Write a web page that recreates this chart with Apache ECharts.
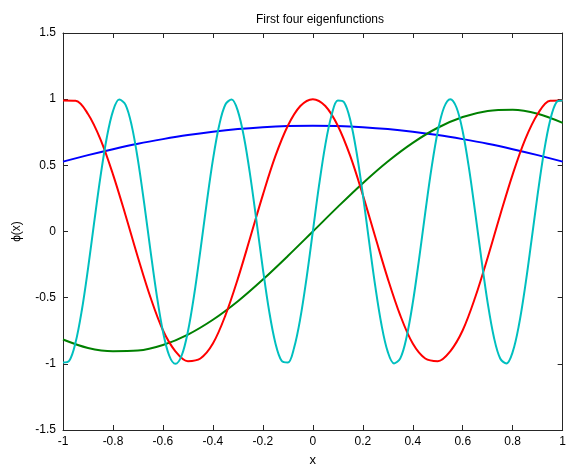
<!doctype html>
<html>
<head>
  <meta charset="utf-8">
  <title>First four eigenfunctions</title>
  <script src="https://cdn.jsdelivr.net/npm/echarts@6/dist/echarts.min.js"></script>
  <style>
    html, body { margin: 0; padding: 0; background: #fff; }
    #chart { width: 569px; height: 472px; }
  </style>
</head>
<body>
  <div id="chart"></div>
  <script>
    // x positions (coarse, medium, fine) and curve values
    const xCoarse = [-1, -0.9, -0.8, -0.7, -0.6, -0.5, -0.4, -0.3, -0.2, -0.1, 0,
      0.1, 0.2, 0.3, 0.4, 0.5, 0.6, 0.7, 0.8, 0.9, 1];
    const xMedium = [-1, -0.95, -0.9, -0.85, -0.8, -0.75, -0.7, -0.65, -0.6, -0.55, -0.5,
      -0.45, -0.4, -0.35, -0.3, -0.25, -0.2, -0.15, -0.1, -0.05, 0,
      0.05, 0.1, 0.15, 0.2, 0.25, 0.3, 0.35, 0.4, 0.45, 0.5,
      0.55, 0.6, 0.65, 0.7, 0.75, 0.8, 0.85, 0.9, 0.95, 1];
    const xFine = [-1, -0.975, -0.95, -0.925, -0.9, -0.875, -0.85, -0.825, -0.8, -0.775,
      -0.75, -0.725, -0.7, -0.675, -0.65, -0.625, -0.6, -0.575, -0.55, -0.525,
      -0.5, -0.475, -0.45, -0.425, -0.4, -0.375, -0.35, -0.325, -0.3, -0.275,
      -0.25, -0.225, -0.2, -0.175, -0.15, -0.125, -0.1, -0.075, -0.05, -0.025,
      0, 0.025, 0.05, 0.075, 0.1, 0.125, 0.15, 0.175, 0.2, 0.225,
      0.25, 0.275, 0.3, 0.325, 0.35, 0.375, 0.4, 0.425, 0.45, 0.475,
      0.5, 0.525, 0.55, 0.575, 0.6, 0.625, 0.65, 0.675, 0.7, 0.725,
      0.75, 0.775, 0.8, 0.825, 0.85, 0.875, 0.9, 0.925, 0.95, 0.975, 1];

    const blueVals = [0.528, 0.577, 0.622, 0.663, 0.698, 0.729, 0.754, 0.774, 0.788, 0.797, 0.800,
      0.797, 0.788, 0.774, 0.754, 0.729, 0.698, 0.663, 0.622, 0.577, 0.528];
    const greenVals = [-0.816, -0.880, -0.905, -0.900, -0.858, -0.779, -0.667, -0.527, -0.363, -0.185, 0,
      0.186, 0.365, 0.529, 0.670, 0.784, 0.865, 0.911, 0.920, 0.890, 0.821];
    const redVals = [0.99, 0.988, 0.888, 0.696, 0.432, 0.125, -0.196, -0.497, -0.746, -0.905, -0.98,
      -0.96, -0.847, -0.634, -0.356, -0.042, 0.277, 0.569, 0.799, 0.948, 1,
      0.948, 0.799, 0.569, 0.277, -0.042, -0.356, -0.634, -0.847, -0.96, -0.98,
      -0.905, -0.746, -0.497, -0.196, 0.125, 0.432, 0.696, 0.888, 0.988, 0.99];
    const cyanVals = [-0.990, -0.977, -0.841, -0.599, -0.282, 0.072, 0.415, 0.707, 0.910, 0.997,
      0.959, 0.800, 0.540, 0.212, -0.142, -0.479, -0.756, -0.937, -1.000, -0.937,
      -0.756, -0.479, -0.142, 0.213, 0.541, 0.801, 0.960, 0.997, 0.910, 0.707,
      0.415, 0.071, -0.282, -0.600, -0.842, -0.977, -0.990, -0.878, -0.655, -0.350,
      0.000, 0.350, 0.655, 0.878, 0.990, 0.977, 0.841, 0.599, 0.282, -0.072,
      -0.415, -0.707, -0.910, -0.997, -0.959, -0.800, -0.540, -0.212, 0.143, 0.479,
      0.756, 0.937, 1.000, 0.937, 0.756, 0.479, 0.142, -0.213, -0.541, -0.801,
      -0.960, -0.997, -0.910, -0.707, -0.415, -0.071, 0.282, 0.600, 0.841, 0.977, 0.990];

    const xTicks = { min: -1, max: 1, interval: 0.2 };
    const yTicks = { min: -1.5, max: 1.5, interval: 0.5 };

    const font = 'Liberation Sans, Arial, sans-serif';
    const boxColor = '#262626';

    function pairs(xs, ys) {
      return xs.map((x, i) => [x, ys[i]]);
    }

    function line(name, color, xs, ys) {
      return {
        name: name,
        type: 'line',
        data: pairs(xs, ys),
        smooth: 0.35,
        symbol: 'none',
        lineStyle: { color: color, width: 2 },
        z: 3
      };
    }

    function xAx(pos, main) {
      return {
        type: 'value', position: pos,
        min: xTicks.min, max: xTicks.max, interval: xTicks.interval,
        name: main ? 'x' : '',
        nameLocation: 'middle', nameGap: 24,
        nameTextStyle: { fontFamily: font, fontSize: 13, color: '#000' },
        axisLine: { show: true, onZero: false, lineStyle: { color: boxColor, width: 1 } },
        axisTick: { show: true, inside: true, length: 5, lineStyle: { color: boxColor } },
        axisLabel: { show: main, fontFamily: font, fontSize: 12, color: '#000', margin: 6 },
        splitLine: { show: false }
      };
    }

    function yAx(pos, main) {
      return {
        type: 'value', position: pos,
        min: yTicks.min, max: yTicks.max, interval: yTicks.interval,
        name: main ? 'ϕ(x)' : '',
        nameLocation: 'middle', nameGap: 40, nameRotate: 90,
        nameTextStyle: { fontFamily: font, fontSize: 12, color: '#000' },
        axisLine: { show: true, onZero: false, lineStyle: { color: boxColor, width: 1 } },
        axisTick: { show: true, inside: true, length: 5, lineStyle: { color: boxColor } },
        axisLabel: { show: main, fontFamily: font, fontSize: 12, color: '#000', margin: 7 },
        splitLine: { show: false }
      };
    }

    const chart = echarts.init(document.getElementById('chart'));
    chart.setOption({
      backgroundColor: '#fff',
      animation: false,
      title: {
        text: 'First four eigenfunctions',
        left: 315, top: 9, textAlign: 'center',
        textStyle: { fontFamily: font, fontSize: 12, fontWeight: 'normal', color: '#000' }
      },
      grid: { left: 63, right: 1, top: 33, bottom: 40 },
      xAxis: [xAx('bottom', true), xAx('top', false)],
      yAxis: [yAx('left', true), yAx('right', false)],
      series: [
        line('phi1', '#0000ff', xCoarse, blueVals),
        line('phi2', '#008000', xCoarse, greenVals),
        line('phi3', '#ff0000', xMedium, redVals),
        line('phi4', '#00bfbf', xFine, cyanVals)
      ]
    });
  </script>
</body>
</html>
